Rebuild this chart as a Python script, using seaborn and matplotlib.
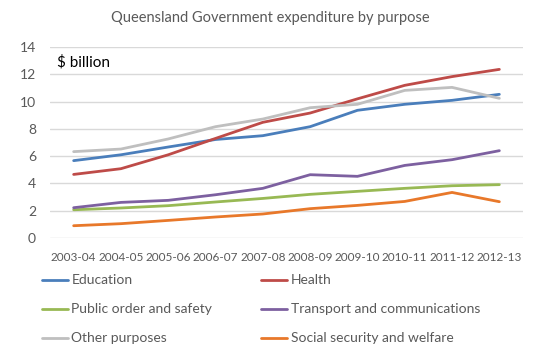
import pandas as pd
import numpy as np
import matplotlib.pyplot as plt
import seaborn as sns


# Financial years on the x axis
years = ['2003-04', '2004-05', '2005-06', '2006-07', '2007-08',
         '2008-09', '2009-10', '2010-11', '2011-12', '2012-13']

# Expenditure by purpose, $ billion
education = [5.67, 6.10, 6.67, 7.22, 7.50, 8.16, 9.36, 9.80, 10.09, 10.53]
health = [4.66, 5.08, 6.10, 7.30, 8.48, 9.16, 10.20, 11.19, 11.83, 12.36]
public_order = [2.07, 2.20, 2.37, 2.64, 2.90, 3.20, 3.42, 3.64, 3.83, 3.91]
transport = [2.22, 2.61, 2.76, 3.17, 3.64, 4.64, 4.52, 5.32, 5.74, 6.40]
other = [6.33, 6.52, 7.26, 8.16, 8.72, 9.55, 9.80, 10.82, 11.04, 10.24]
social = [0.90, 1.05, 1.29, 1.54, 1.76, 2.15, 2.39, 2.68, 3.34, 2.66]

series_names = ['Education', 'Health', 'Public order and safety',
                'Transport and communications', 'Other purposes',
                'Social security and welfare']
series_values = [education, health, public_order, transport, other, social]
colours = ['#4a7ebb', '#be4b48', '#98b954', '#7d60a0', '#bfbfbf', '#e8782a']

TEXT = '#595959'

# long-form table for seaborn
rows = []
for name, vals in zip(series_names, series_values):
    for i, v in enumerate(vals):
        rows.append({'pos': i, 'year': years[i], 'purpose': name, 'value': v})
df = pd.DataFrame(rows)

sns.set_style('white')
plt.rcParams['font.family'] = ['Lato', 'DejaVu Sans']

fig = plt.figure(figsize=(5.39, 3.55), dpi=100)
ax = fig.add_axes([50 / 539, 1 - 238 / 355, 473 / 539, 191 / 355])

sns.lineplot(data=df, x='pos', y='value', hue='purpose', hue_order=series_names,
             palette=dict(zip(series_names, colours)), linewidth=2,
             ax=ax, legend=False, zorder=3)

ax.set_xlim(-0.5, len(years) - 0.5)
ax.set_ylim(0, 14)
ax.set_yticks(np.arange(0, 15, 2))
ax.set_xticks(range(len(years)))
ax.set_xticklabels(years)
ax.tick_params(axis='y', colors=TEXT, labelsize=10, length=0, pad=10)
ax.tick_params(axis='x', colors=TEXT, labelsize=8.5, length=0, pad=10)
ax.grid(axis='y', color='#d9d9d9', linewidth=1)
ax.set_axisbelow(True)
for s in ax.spines.values():
    s.set_visible(False)
ax.set_xlabel('')
ax.set_ylabel('')

ax.text(0.015, 0.92, '$ billion', transform=ax.transAxes, fontsize=11,
        color='black', ha='left', va='center')

fig.text(270 / 539, 1 - 18 / 355, 'Queensland Government expenditure by purpose',
         ha='center', va='center', fontsize=10.5, color=TEXT)

# legend: two columns, row order as in Excel
handles = [plt.Line2D([], [], color=c, linewidth=2) for c in colours]
order = [0, 2, 4, 1, 3, 5]
fig.legend([handles[i] for i in order], [series_names[i] for i in order],
           ncol=2, loc='upper left', bbox_to_anchor=(29 / 539, 1 - 262 / 355),
           frameon=False, fontsize=10, labelcolor=TEXT,
           handlelength=1.9, handletextpad=0.25, columnspacing=3.5,
           labelspacing=1.22)

fig.savefig('out.png', dpi=100)
